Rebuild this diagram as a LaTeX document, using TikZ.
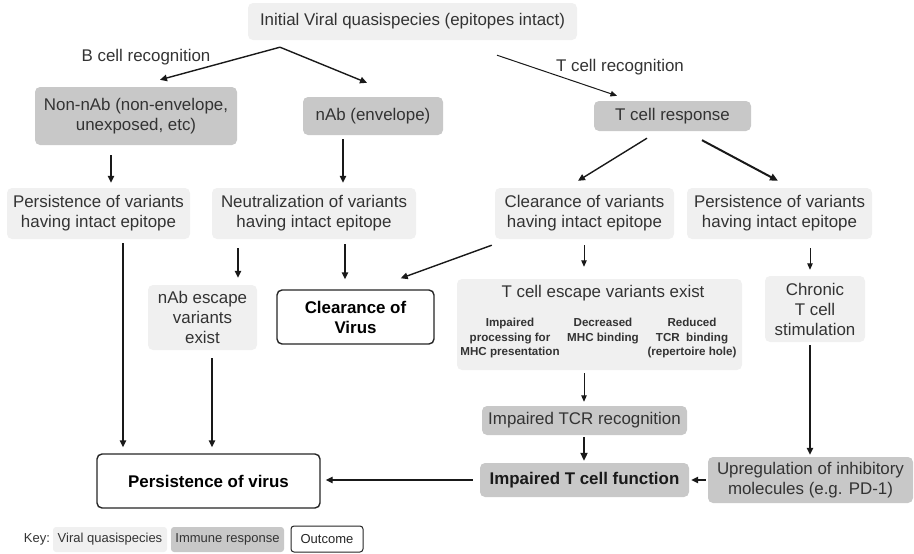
\documentclass[tikz,border=0pt]{standalone}
\usepackage{fontspec}
\setmainfont{Liberation Sans}
\usetikzlibrary{arrows.meta}
\definecolor{txt}{HTML}{333333}
\definecolor{lightc}{HTML}{F0F0F0}
\definecolor{darkc}{HTML}{C8C8C8}
\begin{document}
\begin{tikzpicture}[x=1pt,y=-1pt,
  box/.style={rounded corners=5pt, inner sep=2pt, align=center, text=txt, font=\fontsize{16.9}{20}\selectfont},
  vbox/.style={box, fill=lightc},
  ibox/.style={box, fill=darkc},
  obox/.style={box, fill=white, draw=black!85, line width=1.4pt, text=black, font=\bfseries\fontsize{16.9}{20}\selectfont},
  lbl/.style={text=txt, font=\fontsize{16.9}{20}\selectfont, inner sep=0pt},
  small/.style={text=txt, align=center, inner sep=0pt, font=\bfseries\fontsize{11.6}{14.5}\selectfont},
  keyt/.style={box, rounded corners=3pt, font=\fontsize{13}{15}\selectfont},
  arr/.style={-{Triangle[length=7pt,width=6.5pt]}, line width=1.4pt, draw=black!90},
  arrthin/.style={arr, line width=1pt, -{Triangle[length=6.5pt,width=5.5pt]}},
  arrthick/.style={arr, line width=2pt, -{Triangle[length=8pt,width=7pt]}}
]
\useasboundingbox (0,0) rectangle (914,554);

% row 1
\node[vbox, minimum width=329, minimum height=37] (init) at (412.5,21.5) {Initial Viral quasispecies (epitopes intact)};
\node[lbl] (blab) at (146,57) {B cell recognition};
\node[lbl] (tlab) at (620,67) {T cell recognition};

% row 2
\node[ibox, minimum width=202, minimum height=58] (nonnab) at (136,116) {Non-nAb (non-envelope,\\unexposed, etc)};
\node[ibox, minimum width=140, minimum height=38] (nab) at (373,116) {nAb (envelope)};
\node[ibox, minimum width=157, minimum height=30] (tresp) at (672.5,116) {T cell response};

% row 3
\node[vbox, minimum width=183, minimum height=51] (persL) at (98.5,213.5) {Persistence of variants\\having intact epitope};
\node[vbox, minimum width=204, minimum height=51] (neut) at (314,213.5) {Neutralization of variants\\having intact epitope};
\node[vbox, minimum width=179, minimum height=51] (clearV) at (584.5,213.5) {Clearance of variants\\having intact epitope};
\node[vbox, minimum width=185, minimum height=51] (persR) at (779.5,213.5) {Persistence of variants\\having intact epitope};

% row 4
\node[vbox, minimum width=109, minimum height=65] (nabesc) at (202.5,317.5) {nAb escape\\variants\\exist};
\node[obox, minimum width=157, minimum height=54] (clearVirus) at (355.5,317) {Clearance of\\Virus};
\node[vbox, minimum width=285, minimum height=91] (tesc) at (599.5,324.5) {};
\node[lbl] (tesct) at (603,293) {T cell escape variants exist};
\node[small, anchor=north] (sub1) at (510,318) {Impaired\\processing for\\MHC presentation};
\node[small, anchor=north] (sub2) at (603,318) {Decreased\\MHC binding};
\node[small, anchor=north] (sub3) at (692,318) {Reduced\\TCR~ binding\\(repertoire hole)};
\node[vbox, minimum width=100, minimum height=66] (chronic) at (815,309) {Chronic\\T cell\\stimulation};

% row 5
\node[ibox, minimum width=205, minimum height=29] (itcr) at (584.5,420.5) {Impaired TCR recognition};
\node[ibox, minimum width=209, minimum height=34, font=\bfseries\fontsize{16.9}{20}\selectfont, text=black!90] (itcf) at (584.5,480) {Impaired T cell function};
\node[ibox, minimum width=205, minimum height=46] (upreg) at (810.5,480) {Upregulation of inhibitory\\molecules (e.g. PD-1)};
\node[obox, minimum width=223, minimum height=54] (persVirus) at (208.5,481) {Persistence of virus};

% key
\node[text=txt, font=\fontsize{13}{15}\selectfont, inner sep=0pt] (keylab) at (37,539.5) {Key:};
\node[keyt, fill=lightc, minimum width=114, minimum height=25] (k1) at (110,539.5) {Viral quasispecies};
\node[keyt, fill=darkc, minimum width=113, minimum height=25] (k2) at (227.5,539.5) {Immune response};
\node[keyt, fill=white, draw=black!85, line width=1pt, minimum width=72, minimum height=26, text=black!85] (k3) at (327,539) {Outcome};

% arrows
\draw[arr] ([shift={(-132.5,7)}]init.south) -- ([shift={(24,-7)}]nonnab.north);
\draw[arr] ([shift={(-132.5,7)}]init.south) -- ([shift={(-6,-14)}]nab.north);
\draw[arrthin] ([shift={(84.5,15)}]init.south) -- ([shift={(-55.5,-5)}]tresp.north);
\draw[arr] ([shift={(-25,10)}]nonnab.south) -- ([shift={(12.5,-5)}]persL.north);
\draw[arr] ([shift={(-30,4)}]nab.south) -- ([shift={(29,-5)}]neut.north);
\draw[arr] ([shift={(-25.5,7)}]tresp.south) -- ([shift={(-6.5,-7)}]clearV.north);
\draw[arrthick] ([shift={(29.5,9)}]tresp.south) -- ([shift={(-1.5,-7)}]persR.north);
\draw[arr] ([shift={(24.5,4)}]persL.south) -- ([shift={(-85.5,-6)}]persVirus.north);
\draw[arr] ([shift={(-76,9)}]neut.south) -- ([shift={(35.5,-7)}]nabesc.north);
\draw[arr] ([shift={(31,5)}]neut.south) -- ([shift={(-10.5,-10)}]clearVirus.north);
\draw[arr] ([shift={(-3,6)}]clearV.south west) -- ([shift={(-34,-11)}]clearVirus.north east);
\draw[arrthin] ([shift={(-0.5,6)}]clearV.south) -- ([shift={(-15.5,-12)}]tesc.north);
\draw[arrthin] ([shift={(30.5,9)}]persR.south) -- ([shift={(-5,-6)}]chronic.north);
\draw[arr] ([shift={(9.5,8)}]nabesc.south) -- ([shift={(3.5,-6)}]persVirus.north);
\draw[arrthin] ([shift={(-15.5,3)}]tesc.south) -- ([shift={(-0.5,-4)}]itcr.north);
\draw[arrthick] ([shift={(-0.5,2)}]itcr.south) -- ([shift={(-0.5,-2)}]itcf.north);
\draw[arr] ([shift={(-5,3)}]chronic.south) -- ([shift={(-0.5,-2)}]upreg.north);
\draw[arr] ([shift={(-2,0)}]upreg.west) -- ([shift={(2,0)}]itcf.east);
\draw[arr] ([shift={(-7,0)}]itcf.west) -- ([shift={(5,-1)}]persVirus.east);
\end{tikzpicture}
\end{document}
